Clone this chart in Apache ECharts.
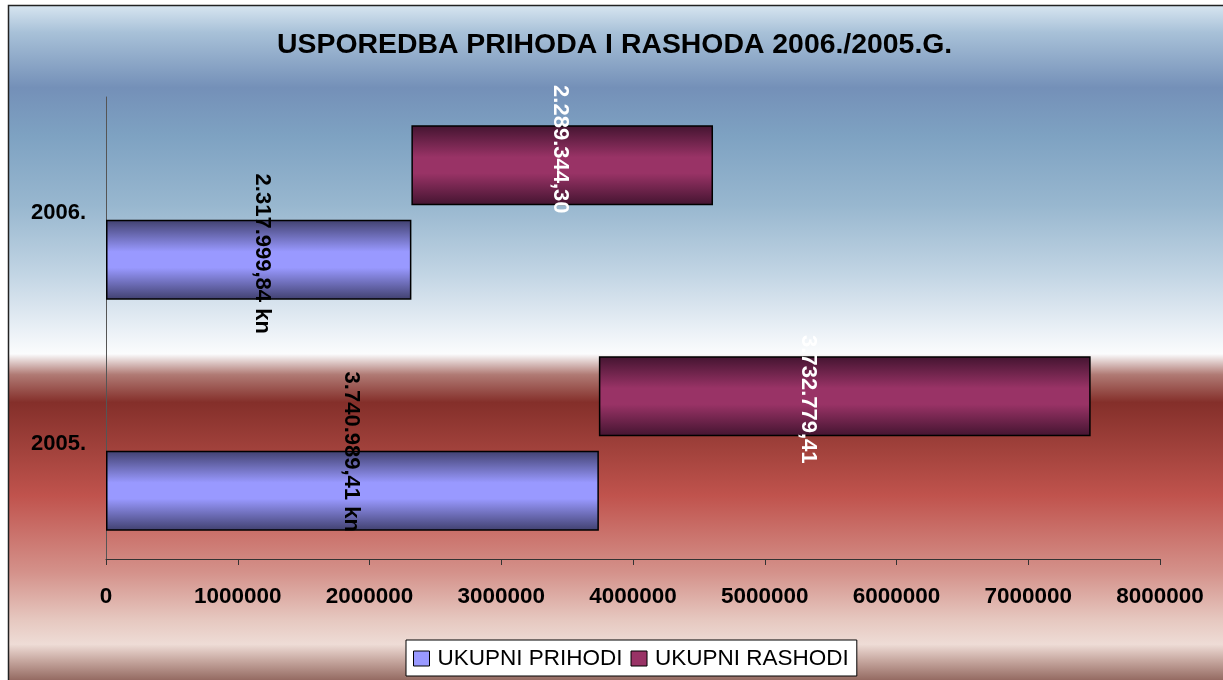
<!DOCTYPE html>
<html>
<head>
<meta charset="utf-8">
<script src="https://cdn.jsdelivr.net/npm/echarts@6/dist/echarts.min.js"></script>
<style>
  html, body { margin: 0; padding: 0; background: #fff; }
  #chart { width: 1223px; height: 680px; }
</style>
</head>
<body>
<div id="chart"></div>
<script>
// data
const years = ['2005.', '2006.']
const prihodi = [3740989.41, 2317999.84]
const rashodi = [3732779.41, 2289344.30]
const axisMax = 8000000
const axisStep = 1000000

const FONT = '"Liberation Sans", Arial, sans-serif'

// 2.317.999,84 style
function hrNum(v) {
  const parts = v.toFixed(2).split('.')
  return parts[0].replace(/\B(?=(\d{3})+(?!\d))/g, '.') + ',' + parts[1]
}

function barGradient(edge, mid) {
  return new echarts.graphic.LinearGradient(0, 0, 0, 1, [
    { offset: 0, color: edge },
    { offset: 0.4, color: mid },
    { offset: 0.5, color: mid },
    { offset: 0.6, color: mid },
    { offset: 1, color: edge }
  ])
}

// label shifts, local (rotated) frame
const prihodiShift = [[-39, 1], [-6, -3]]
const rashodiShift = [[3, 37], [-16, 2]]

const chart = echarts.init(document.getElementById('chart'))
chart.setOption({
  animation: false,
  graphic: [{
    type: 'rect',
    z: -10,
    silent: true,
    shape: { x: 8.5, y: 5.5, width: 1230, height: 690 },
    style: {
      stroke: '#222',
      lineWidth: 1.5,
      fill: new echarts.graphic.LinearGradient(0, 0, 0, 1, [
        { offset: 0, color: '#d8e6f1' },
        { offset: 0.04, color: '#a8c1d8' },
        { offset: 0.12, color: '#7490b8' },
        { offset: 0.19, color: '#7ea2c2' },
        { offset: 0.29, color: '#98b7cf' },
        { offset: 0.39, color: '#c2d5e4' },
        { offset: 0.47, color: '#eaf0f6' },
        { offset: 0.505, color: '#fbfcfd' },
        { offset: 0.535, color: '#b07a74' },
        { offset: 0.575, color: '#842f2a' },
        { offset: 0.64, color: '#a0413b' },
        { offset: 0.71, color: '#c0534d' },
        { offset: 0.82, color: '#d4918a' },
        { offset: 0.89, color: '#e6c8c0' },
        { offset: 0.925, color: '#eedcd6' },
        { offset: 0.95, color: '#c4a49c' },
        { offset: 1, color: '#6a382f' }
      ])
    }
  }],
  title: {
    text: 'USPOREDBA PRIHODA I RASHODA 2006./2005.G.',
    left: 272,
    top: 26,
    textStyle: { fontFamily: FONT, fontSize: 28.4, fontWeight: 'bold', color: '#000' }
  },
  legend: {
    bottom: 4,
    left: 406,
    backgroundColor: '#fff',
    borderColor: '#000',
    borderWidth: 1,
    borderRadius: 0,
    padding: [7, 8, 6, 7],
    itemWidth: 16,
    itemHeight: 15,
    itemGap: 8,
    icon: 'rect',
    textStyle: { fontFamily: FONT, fontSize: 22.5, color: '#000', padding: [0, 0, 0, 3] },
    itemStyle: { borderColor: '#000', borderWidth: 1 },
    data: [
      { name: 'UKUPNI PRIHODI', itemStyle: { color: '#9999ff' } },
      { name: 'UKUPNI RASHODI', itemStyle: { color: '#993366' } }
    ]
  },
  grid: { left: 106, right: 63, top: 97, bottom: 121 },
  xAxis: {
    type: 'value',
    min: 0,
    max: axisMax,
    interval: axisStep,
    splitLine: { show: false },
    axisLine: { show: true, lineStyle: { color: '#333', width: 1 } },
    axisTick: { show: true, length: 6, lineStyle: { color: '#333' } },
    axisLabel: {
      margin: 26,
      fontFamily: FONT, fontSize: 22.5, fontWeight: 'bold', color: '#000',
      formatter: v => String(v)
    }
  },
  yAxis: {
    type: 'category',
    data: years,
    axisLine: { lineStyle: { color: '#555', width: 1 } },
    axisTick: { show: false },
    axisLabel: {
      margin: 20,
      fontFamily: FONT, fontSize: 22, fontWeight: 'bold', color: '#000'
    }
  },
  series: [
    {
      name: 'base',
      type: 'bar',
      stack: 'r',
      barWidth: 80,
      barGap: '18%',
      silent: true,
      itemStyle: { color: 'transparent' },
      data: prihodi
    },
    {
      name: 'UKUPNI RASHODI',
      type: 'bar',
      stack: 'r',
      barWidth: 80,
      itemStyle: { color: barGradient('#431430', '#993366'), borderColor: '#000', borderWidth: 1.5 },
      label: {
        show: true,
        position: 'inside',
        rotate: -90,
        color: '#fff',
        fontFamily: FONT, fontSize: 22, fontWeight: 'bold',
        formatter: p => hrNum(p.value)
      },
      data: rashodi.map((v, i) => ({ value: v, label: { offset: rashodiShift[i] } }))
    },
    {
      name: 'UKUPNI PRIHODI',
      type: 'bar',
      stack: 'p',
      barWidth: 80,
      barGap: '18%',
      itemStyle: { color: barGradient('#40406e', '#9999ff'), borderColor: '#000', borderWidth: 1.5 },
      label: {
        show: true,
        position: 'inside',
        rotate: -90,
        color: '#000',
        fontFamily: FONT, fontSize: 22, fontWeight: 'bold',
        formatter: p => hrNum(p.value) + ' kn'
      },
      data: prihodi.map((v, i) => ({ value: v, label: { offset: prihodiShift[i] } }))
    }
  ]
})
</script>
</body>
</html>
